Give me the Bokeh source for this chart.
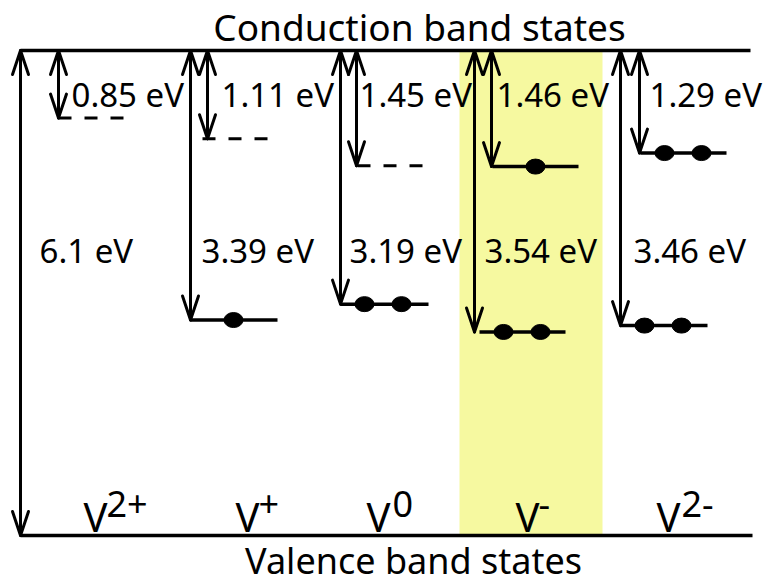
from bokeh.plotting import figure
from bokeh.models import Range1d, ColumnDataSource
from bokeh.core.properties import value
from bokeh.embed import file_html
from bokeh.resources import INLINE

# ---------------- data ----------------
states_sup = ["2+", "+", "0", "-", "2-"]          # charge state superscripts of V
band_gap = 6.1                                     # eV
gap_label = "6.1 eV"
upper_depth = [0.85, 1.11, 1.45, 1.46, 1.29]       # eV below conduction band
upper_labels = ["0.85 eV", "1.11 eV", "1.45 eV", "1.46 eV", "1.29 eV"]
upper_electrons = [0, 0, 0, 1, 2]
lower_depth = [3.39, 3.19, 3.54, 3.46]             # V+, V0, V-, V2- (eV below CB)
lower_labels = ["3.39 eV", "3.19 eV", "3.54 eV", "3.46 eV"]
lower_electrons = [1, 2, 2, 2]
title_top = "Conduction band states"
title_bottom = "Valence band states"

# ---------------- layout (pixels) ----------------
W, H = 764, 587
y_cb_px, y_vb_px = 50, 535
ppe = (y_vb_px - y_cb_px) / band_gap               # px per eV
BASE_K = 0.39                                      # svg baseline correction (em)


def e_of_px(ypx):
    return band_gap - (ypx - y_cb_px) / ppe


def base_y(ypx, fs):
    return e_of_px(ypx - BASE_K * fs)


band_x = (20, 750)
gap_arrow_x = 20
short_x = [58, 207, 356, 491, 639]
long_x = [190, 340, 474, 620]
upper_x0 = [58, 202, 357, 492, 640]
upper_len = [68, 66, 68, 86, 86]
lower_x0 = [190, 340, 479, 620]
lower_len = [87, 88, 86, 87]
dot_offsets = {1: [43], 2: [24, 61]}
upper_label_x = [71, 221, 359, 496, 649]
lower_label_x = [201, 349, 484, 633]
gap_label_x = 39
V_x = [83, 235, 366, 515, 656]
sup_x = [106, 258, 392, 538, 681]
hl_x = (459, 602)

FONT = value("Noto Sans")
FS_LAB, FS_V, FS_SUP, FS_TITLE = 33, 40, 36, 37
LW = 3.5
head_len = 24 / ppe
head_half = 8

p = figure(width=W, height=H, output_backend="svg", toolbar_location=None,
           x_range=Range1d(0, W),
           y_range=Range1d(e_of_px(H), e_of_px(0)),
           x_axis_location=None, y_axis_location=None,
           min_border=0, min_border_left=0, min_border_right=0,
           min_border_top=0, min_border_bottom=0)
p.grid.visible = False
p.outline_line_color = None
p.background_fill_color = "white"
p.border_fill_color = "white"

# highlight column (V-)
p.quad(left=[hl_x[0]], right=[hl_x[1]], bottom=[0], top=[band_gap],
       fill_color="#f6f9a0", line_color=None)

# band edges
p.segment(x0=[band_x[0], band_x[0]], x1=[band_x[1], band_x[1] + 2],
          y0=[band_gap, 0], y1=[band_gap, 0], line_color="black", line_width=LW)

# arrows
ax, ay0, ay1 = [gap_arrow_x], [0.0], [band_gap]
for i, d in enumerate(upper_depth):
    ax.append(short_x[i]); ay0.append(band_gap - d); ay1.append(band_gap)
for j, d in enumerate(lower_depth):
    ax.append(long_x[j]); ay0.append(band_gap - d); ay1.append(band_gap)
p.segment(x0=ax, x1=ax, y0=ay0, y1=ay1, line_color="black", line_width=3)

hx0, hx1, hy0, hy1 = [], [], [], []
for x, lo, hi in zip(ax, ay0, ay1):
    for s in (-1, 1):
        hx0.append(x); hy0.append(hi); hx1.append(x + s * head_half); hy1.append(hi - head_len)
        hx0.append(x); hy0.append(lo); hx1.append(x + s * head_half); hy1.append(lo + head_len)
p.segment(x0=hx0, x1=hx1, y0=hy0, y1=hy1, line_color="black", line_width=3,
          line_cap="round")

# levels
dot_x, dot_y = [], []
for i, d in enumerate(upper_depth):
    e = band_gap - d
    x0 = upper_x0[i]
    if upper_electrons[i] == 0:
        p.line([x0, x0 + upper_len[i]], [e, e], line_color="black", line_width=3,
               line_dash="13 13")
    else:
        p.line([x0, x0 + upper_len[i]], [e, e], line_color="black", line_width=3.5)
        for off in dot_offsets[upper_electrons[i]]:
            dot_x.append(x0 + off); dot_y.append(e)
for j, d in enumerate(lower_depth):
    e = band_gap - d
    x0 = lower_x0[j]
    p.line([x0, x0 + lower_len[j]], [e, e], line_color="black", line_width=3.5)
    for off in dot_offsets[lower_electrons[j]]:
        dot_x.append(x0 + off); dot_y.append(e)
p.ellipse(x=dot_x, y=dot_y, width=19, height=15, width_units="screen",
          height_units="screen", fill_color="black", line_color="black")

# energy labels
lab_src = ColumnDataSource(dict(
    x=upper_label_x + lower_label_x + [gap_label_x],
    y=[base_y(107, FS_LAB)] * 5 + [base_y(263, FS_LAB)] * 5,
    t=upper_labels + lower_labels + [gap_label]))
p.text(x="x", y="y", text="t", source=lab_src, text_font=FONT,
       text_font_size=f"{FS_LAB}px", text_align="left", text_baseline="alphabetic",
       text_color="black")

# charge state labels
p.text(x=V_x, y=[base_y(532, FS_V)] * 5, text=["V"] * 5, text_font=FONT,
       text_font_size=f"{FS_V}px", text_align="left", text_baseline="alphabetic")
p.text(x=sup_x, y=[base_y(518, FS_SUP)] * 5, text=states_sup, text_font=FONT,
       text_font_size=f"{FS_SUP}px", text_align="left", text_baseline="alphabetic")

# band titles
p.text(x=[419], y=[base_y(40, FS_TITLE)], text=[title_top], text_font=FONT,
       text_font_size=f"{FS_TITLE}px", text_align="center", text_baseline="alphabetic")
p.text(x=[413], y=[base_y(574, 36)], text=[title_bottom], text_font=FONT,
       text_font_size="36px", text_align="center", text_baseline="alphabetic")

open("out.html", "w").write(file_html(p, INLINE))
